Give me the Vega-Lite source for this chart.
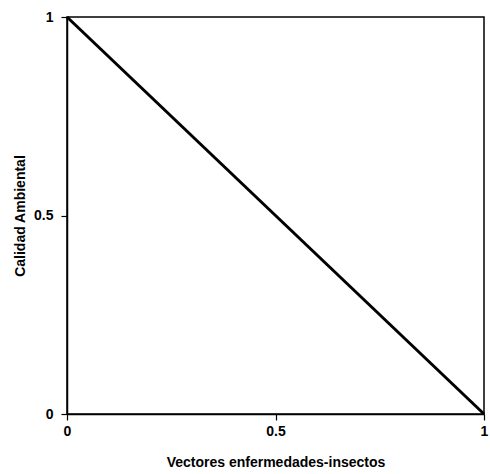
{
  "$schema": "https://vega.github.io/schema/vega-lite/v6.json",
  "autosize": "none",
  "padding": {"left": 67, "top": 17, "right": 6, "bottom": 60},
  "width": 417,
  "height": 397,
  "background": "white",
  "config": {
    "view": {"stroke": "black", "strokeWidth": 1.5},
    "axis": {
      "grid": false,
      "domainColor": "black",
      "domainWidth": 1.5,
      "tickColor": "black",
      "tickWidth": 1.2,
      "tickSize": 6,
      "labelFont": "Liberation Sans",
      "labelFontWeight": "bold",
      "labelFontSize": 14,
      "labelColor": "black",
      "titleFont": "Liberation Sans",
      "titleFontWeight": "bold",
      "titleFontSize": 14,
      "titleColor": "black"
    }
  },
  "data": {"values": [
    {"x": 0, "y": 1},
    {"x": 1, "y": 0}
  ]},
  "mark": {"type": "line", "color": "black", "strokeWidth": 3},
  "encoding": {
    "x": {"field": "x", "type": "quantitative", "scale": {"domain": [0, 1], "nice": false},
          "axis": {"values": [0, 0.5, 1], "format": "~g", "title": "Vectores enfermedades-insectos", "labelPadding": 4, "titlePadding": 17, "labelFlush": false}},
    "y": {"field": "y", "type": "quantitative", "scale": {"domain": [0, 1], "nice": false},
          "axis": {"values": [0, 0.5, 1], "format": "~g", "title": "Calidad Ambiental", "labelPadding": 8, "titlePadding": 6, "labelFlush": false}}
  }
}
